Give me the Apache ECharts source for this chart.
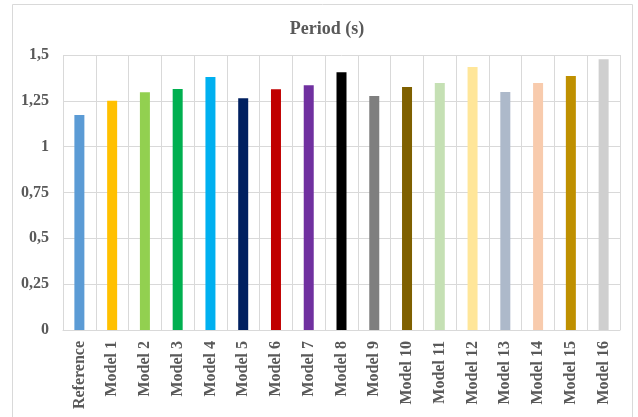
<!DOCTYPE html>
<html><head><meta charset="utf-8">
<script src="https://cdn.jsdelivr.net/npm/echarts@6/dist/echarts.min.js"></script>
<style>html,body{margin:0;padding:0;background:#fff}#c{width:638px;height:417px}</style>
</head><body><div id="c"></div>
<script>
const categories = ['Reference','Model 1','Model 2','Model 3','Model 4','Model 5','Model 6','Model 7','Model 8','Model 9','Model 10','Model 11','Model 12','Model 13','Model 14','Model 15','Model 16'];
const periods = [1.173,1.251,1.297,1.315,1.380,1.264,1.313,1.335,1.406,1.277,1.326,1.347,1.435,1.298,1.347,1.386,1.477];
const barColors = ['#5B9BD5','#FFC000','#92D050','#00B050','#00B0F0','#002060','#C00000','#7030A0','#000000','#7F7F7F','#7F6000','#C5E0B4','#FFE699','#ADB9CA','#F8CBAD','#BF9000','#CFCFCF'];
const yTicks = [0,0.25,0.5,0.75,1,1.25,1.5];

const chart = echarts.init(document.getElementById('c'));
const font = '"Liberation Serif","Times New Roman",serif';
chart.setOption({
  animation:false,
  graphic:[{type:'rect',shape:{x:12.5,y:4.5,width:620,height:430},style:{fill:'none',stroke:'#D9D9D9',lineWidth:1},silent:true}],
  title:{text:'Period (s)',left:322,top:15,textAlign:'center',textStyle:{fontFamily:font,fontWeight:'bold',fontSize:18,color:'#595959'}},
  grid:{left:63,right:18,top:55,bottom:87},
  xAxis:{type:'category',data:categories,boundaryGap:true,
    axisLine:{show:true,lineStyle:{color:'#D9D9D9'}},axisTick:{show:false},
    splitLine:{show:true,interval:0,lineStyle:{color:'#D9D9D9'}},
    axisLabel:{interval:0,rotate:90,margin:11,fontFamily:font,fontWeight:'bold',fontSize:16,color:'#595959'}},
  yAxis:{type:'value',min:0,max:1.5,interval:0.25,
    axisLine:{show:false},axisTick:{show:false},
    splitLine:{lineStyle:{color:'#D9D9D9'}},
    axisLabel:{margin:14,fontFamily:font,fontWeight:'bold',fontSize:16,color:'#595959',
      formatter:v=>String(yTicks.find(t=>Math.abs(t-v)<1e-9) ?? v).replace('.',',')}},
  series:[{type:'bar',barWidth:10,
    data:periods.map((v,i)=>({value:v,itemStyle:{color:barColors[i]}}))}]
});
</script></body></html>
